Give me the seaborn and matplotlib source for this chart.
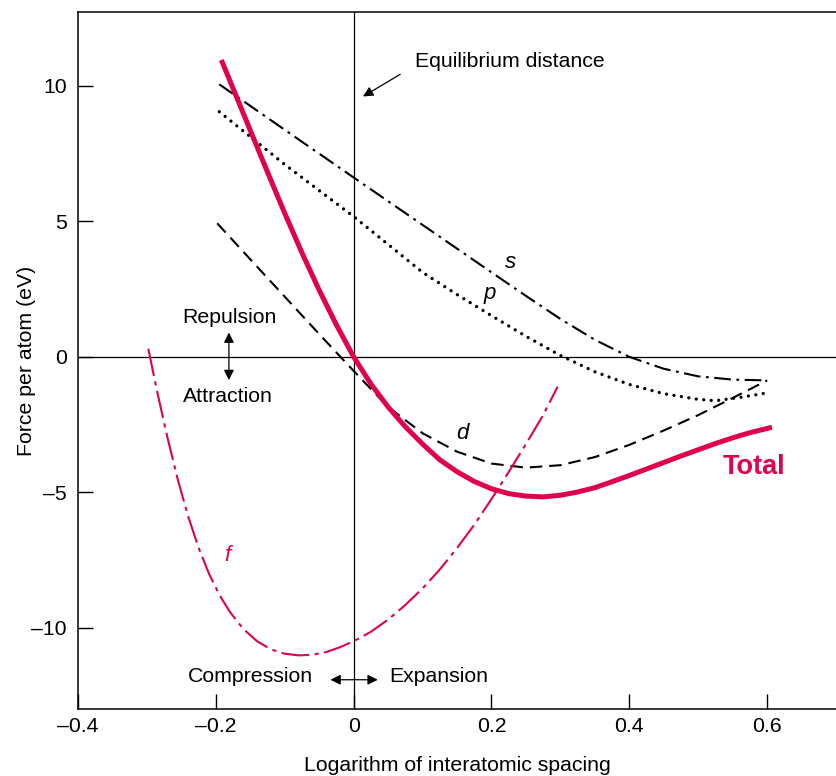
import numpy as np
import pandas as pd
import matplotlib
matplotlib.use("Agg")
import matplotlib.pyplot as plt
import seaborn as sns

# values
total_x = [-0.192, -0.17, -0.15, -0.125, -0.1, -0.075, -0.05, -0.025, 0.0, 0.025, 0.05, 0.075,
           0.1, 0.125, 0.15, 0.175, 0.2, 0.225, 0.25, 0.275, 0.3, 0.325, 0.35, 0.375, 0.4,
           0.425, 0.45, 0.475, 0.5, 0.525, 0.55, 0.575, 0.607]
total_y = [10.96, 9.6, 8.36, 6.82, 5.3, 3.84, 2.46, 1.18, 0.0, -1.0, -1.85, -2.58,
           -3.22, -3.8, -4.24, -4.6, -4.87, -5.05, -5.14, -5.17, -5.11, -4.99, -4.83, -4.61, -4.38,
           -4.14, -3.9, -3.66, -3.43, -3.2, -2.99, -2.8, -2.6]

s_x = [-0.195, -0.1, 0.0, 0.1, 0.2, 0.25, 0.3, 0.35, 0.4, 0.45, 0.5, 0.55, 0.6]
s_y = [10.06, 8.38, 6.62, 4.87, 3.12, 2.25, 1.4, 0.63, 0.0, -0.44, -0.72, -0.84, -0.87]

p_x = [-0.195, -0.1, 0.0, 0.05, 0.1, 0.15, 0.2, 0.25, 0.3, 0.35, 0.4, 0.45, 0.5, 0.525, 0.56, 0.6]
p_y = [9.05, 7.1, 5.18, 4.15, 3.12, 2.3, 1.52, 0.76, 0.05, -0.55, -1.02, -1.36, -1.57, -1.62, -1.5, -1.33]

d_x = [-0.198, -0.15, -0.1, -0.05, 0.0, 0.05, 0.1, 0.15, 0.2, 0.25, 0.3, 0.35, 0.4, 0.45,
       0.5, 0.55, 0.6]
d_y = [4.93, 3.6, 2.22, 0.84, -0.52, -1.85, -2.82, -3.5, -3.94, -4.09, -4.0, -3.7, -3.25, -2.72,
       -2.15, -1.52, -0.87]

f_x = [-0.298, -0.285, -0.27, -0.255, -0.24, -0.225, -0.21, -0.195, -0.18, -0.16, -0.14, -0.12,
       -0.1, -0.08, -0.06, -0.04, -0.02, 0.0, 0.025, 0.05, 0.075, 0.1, 0.125, 0.15, 0.175, 0.2,
       0.225, 0.25, 0.275, 0.296]
f_y = [0.3, -1.3, -3.0, -4.55, -5.9, -7.05, -8.0, -8.78, -9.4, -10.05, -10.5, -10.8,
       -10.96, -11.02, -11.0, -10.9, -10.72, -10.5, -10.15, -9.7, -9.16, -8.55, -7.85, -7.06, -6.2, -5.25,
       -4.25, -3.22, -2.15, -1.1]

red = "#E0004E"

sns.set_style("white")
plt.rcParams["font.family"] = ["Liberation Sans", "DejaVu Sans"]
plt.rcParams["lines.scale_dashes"] = False
plt.rcParams["text.color"] = "black"
plt.rcParams["axes.labelcolor"] = "black"

fig = plt.figure(figsize=(8.37, 7.76), dpi=100)
ax = fig.add_axes([78 / 837, 67 / 776, 1 - 78 / 837, (709 - 12) / 776])

# zero lines
ax.axhline(0, color="black", lw=0.9, zorder=1)
ax.axvline(0, color="black", lw=0.9, zorder=1)

sns.lineplot(x=s_x, y=s_y, ax=ax, color="black", lw=1.5, estimator=None, sort=False,
             linestyle=(0, (12, 4, 2, 4)))
sns.lineplot(x=p_x, y=p_y, ax=ax, color="black", lw=2.4, estimator=None, sort=False,
             linestyle=(0, (0.01, 5.4)), dash_capstyle="round")
sns.lineplot(x=d_x, y=d_y, ax=ax, color="black", lw=1.5, estimator=None, sort=False,
             linestyle=(0, (9, 5)))
sns.lineplot(x=f_x, y=f_y, ax=ax, color=red, lw=1.5, estimator=None, sort=False,
             linestyle=(0, (20, 4, 3, 4)))
sns.lineplot(x=total_x, y=total_y, ax=ax, color=red, lw=3.6, estimator=None, sort=False,
             solid_capstyle="butt", solid_joinstyle="round")

ax.set_xlim(-0.4, 0.7014)
ax.set_ylim(-13.0, 12.73)
ax.set_xticks([-0.4, -0.2, 0, 0.2, 0.4, 0.6])
ax.set_xticklabels(["\u20130.4", "\u20130.2", "0", "0.2", "0.4", "0.6"])
ax.set_yticks([-10, -5, 0, 5, 10])
ax.set_yticklabels(["\u201310", "\u20135", "0", "5", "10"])
ax.tick_params(axis="both", direction="in", length=10.5, width=1, labelsize=15.3,
               colors="black", bottom=True, left=True)
ax.tick_params(axis="x", pad=6)
ax.tick_params(axis="y", pad=8)
for side in ["left", "bottom", "top"]:
    ax.spines[side].set_color("black")
    ax.spines[side].set_linewidth(1.1)
ax.spines["right"].set_visible(False)

ax.set_xlabel("Logarithm of interatomic spacing", fontsize=15.3, labelpad=14)
ax.set_ylabel("Force per atom (eV)", fontsize=15.3, labelpad=-3)

# annotations
ax.text(0.0884, 10.92, "Equilibrium distance", fontsize=15.3, va="center", ha="left")
ax.annotate("", xy=(0.0101, 9.56), xytext=(0.071, 10.48),
            arrowprops=dict(arrowstyle="-|>", color="black", lw=0.9, mutation_scale=15))

ax.text(-0.18, 1.44, "Repulsion", fontsize=15.3, ha="center", va="center")
ax.text(-0.183, -1.48, "Attraction", fontsize=15.3, ha="center", va="center")
ax.annotate("", xy=(-0.181, 1.0), xytext=(-0.181, -0.96),
            arrowprops=dict(arrowstyle="<|-|>", color="black", lw=0.9, mutation_scale=15))

ax.text(-0.0594, -11.8, "Compression", fontsize=15.3, ha="right", va="center")
ax.text(0.052, -11.8, "Expansion", fontsize=15.3, ha="left", va="center")
ax.annotate("", xy=(-0.0377, -11.92), xytext=(0.039, -11.92),
            arrowprops=dict(arrowstyle="<|-|>", color="black", lw=0.9, mutation_scale=15))

ax.text(0.228, 3.5, "s", fontsize=16, style="italic", ha="center", va="center")
ax.text(0.198, 2.35, "p", fontsize=16, style="italic", ha="center", va="center")
ax.text(0.158, -2.84, "d", fontsize=16, style="italic", ha="center", va="center")
ax.text(-0.183, -7.35, "f", fontsize=16, style="italic", ha="center", va="center", color=red)
ax.text(0.535, -4.06, "Total", fontsize=19.5, fontweight="bold", ha="left", va="center", color=red)

fig.savefig("out.png", dpi=100)
